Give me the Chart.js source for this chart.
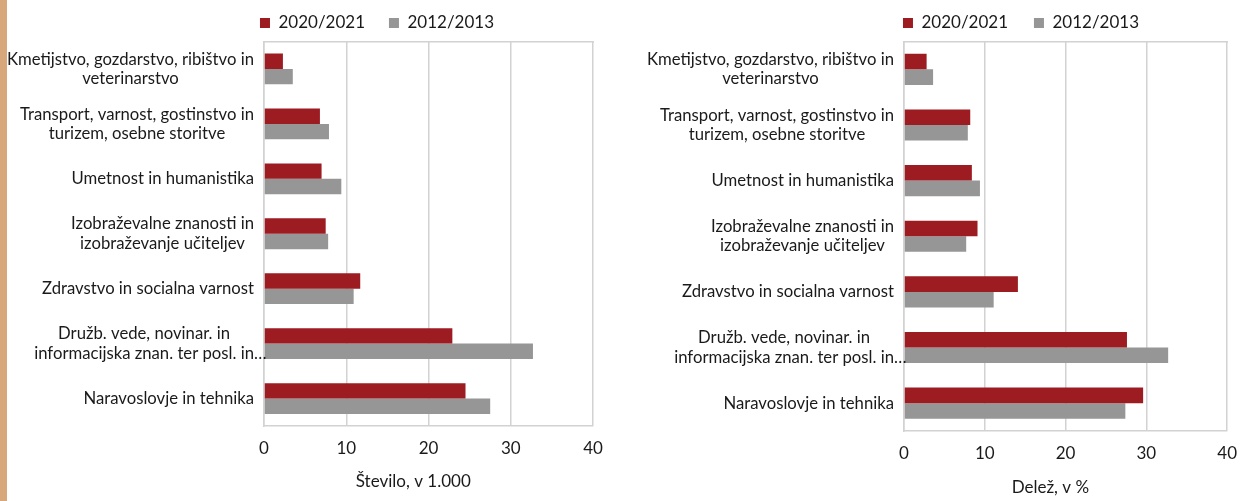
<!DOCTYPE html>
<html>
<head>
<meta charset="utf-8">
<script src="https://cdn.jsdelivr.net/npm/chart.js@4"></script>
<style>
  html, body { margin: 0; padding: 0; background: #fff; }
  #page { position: relative; width: 1249px; height: 501px; overflow: hidden; }
  #strip { position: absolute; left: 0; top: 0; width: 7px; height: 501px; background: #d6a87c; }
  #count-chart { position: absolute; left: 0; top: 0; }
  #share-chart { position: absolute; left: 620px; top: 0; }
</style>
</head>
<body>
<div id="page">
  <div id="strip"></div>
  <canvas id="count-chart" width="620" height="501"></canvas>
  <canvas id="share-chart" width="629" height="501"></canvas>
</div>
<script>
const categories = [
  ['Kmetijstvo, gozdarstvo, ribištvo in', 'veterinarstvo'],
  ['Transport, varnost, gostinstvo in', 'turizem, osebne storitve'],
  'Umetnost in humanistika',
  ['Izobraževalne znanosti in', 'izobraževanje učiteljev'],
  'Zdravstvo in socialna varnost',
  ['Družb. vede, novinar. in', 'informacijska znan. ter posl. in…'],
  'Naravoslovje in tehnika',
];
const seriesNames = ['2020/2021', '2012/2013'];

// students, in thousands
const count2021 = [2.3, 6.8, 7.0, 7.5, 11.7, 22.9, 24.5];
const count2013 = [3.5, 7.9, 9.4, 7.8, 10.9, 32.7, 27.5];
// share of all students, %
const share2021 = [2.8, 8.2, 8.4, 9.1, 14.1, 27.6, 29.6];
const share2013 = [3.6, 7.9, 9.4, 7.7, 11.1, 32.7, 27.4];

const xTicks = [0, 10, 20, 30, 40];
const axisTitles = ['Število, v 1.000', 'Delež, v %'];

const FONT = 'Lato, "Open Sans", sans-serif';
const FONT_SIZE = 17;
const LABEL_SIZE = 16.7;
const TEXT = '#1a1a1a';
const RED = '#9c1c22';
const GREY = '#969696';
const GRID = '#d2d2d2';
const LINE_H = 19.5;
const NBSP = '\u00a0';

Chart.defaults.font.family = FONT;
Chart.defaults.font.size = FONT_SIZE;
Chart.defaults.color = TEXT;

// category labels: each block right-aligned to the axis, lines centred inside the block;
// a trailing ellipsis is not counted, so it hangs over the axis
const categoryLabels = {
  id: 'categoryLabels',
  afterDatasetsDraw(chart, args, opts) {
    const ctx = chart.ctx;
    const yScale = chart.scales.y;
    const right = chart.chartArea.left - opts.gap;
    ctx.save();
    ctx.font = LABEL_SIZE + 'px ' + FONT;
    ctx.fillStyle = TEXT;
    ctx.textBaseline = 'middle';
    ctx.textAlign = 'left';
    chart.data.labels.forEach((label, i) => {
      const lines = [].concat(label);
      const widths = lines.map(s => ctx.measureText(s.replace(/…$/, '')).width);
      const cx = right - Math.max(...widths) / 2;
      const cy = yScale.getPixelForTick(i);
      lines.forEach((s, k) => {
        ctx.fillText(s, cx - widths[k] / 2, cy + (k - (lines.length - 1) / 2) * LINE_H);
      });
    });
    ctx.restore();
  },
};

function makeChart(id, recent, older, title, lay) {
  return new Chart(document.getElementById(id), {
    type: 'bar',
    data: {
      labels: categories,
      datasets: [
        { label: seriesNames[0] + NBSP.repeat(lay.legendGap), data: recent, backgroundColor: RED },
        { label: seriesNames[1], data: older, backgroundColor: GREY },
      ],
    },
    plugins: [categoryLabels],
    options: {
      indexAxis: 'y',
      responsive: false,
      animation: false,
      devicePixelRatio: 1,
      layout: { padding: lay.padding },
      datasets: { bar: { categoryPercentage: 0.56, barPercentage: 1 } },
      plugins: {
        legend: {
          position: 'top',
          labels: { boxWidth: 10, boxHeight: 10, padding: lay.legendPad, color: TEXT },
        },
        tooltip: { enabled: false },
        categoryLabels: { gap: 10 },
      },
      scales: {
        x: {
          min: xTicks[0],
          max: xTicks[xTicks.length - 1],
          ticks: { stepSize: xTicks[1] - xTicks[0], padding: 12, color: TEXT },
          grid: { color: GRID, lineWidth: 1.5, drawTicks: false },
          border: { color: GRID, width: 1.5 },
          title: {
            display: true,
            text: title + NBSP.repeat(lay.titleShift),
            color: TEXT,
            padding: { top: 0, bottom: lay.titlePad },
          },
          afterFit: s => { s.height = lay.xAxisH; },
        },
        frameTop: {
          type: 'linear',
          axis: 'x',
          position: 'top',
          ticks: { display: false },
          grid: { display: false, drawTicks: false },
          border: { display: true, color: GRID, width: 1.5 },
          afterFit: s => { s.height = 0; },
        },
        y: {
          ticks: { display: false },
          grid: { display: false, drawTicks: false },
          border: { color: GRID, width: 1.5 },
          afterFit: s => { s.width = lay.yAxisW; },
        },
      },
    },
  });
}

makeChart('count-chart', count2021, count2013, axisTitles[0], {
  padding: { left: 161, right: 27, top: 8, bottom: 0 },
  legendPad: 6.5, legendGap: 4, yAxisW: 103, xAxisH: 75, titlePad: 9, titleShift: 7,
});
makeChart('share-chart', share2021, share2013, axisTitles[1], {
  padding: { left: 184, right: 11, top: 6, bottom: 0 },
  legendPad: 8.5, legendGap: 4, yAxisW: 100, xAxisH: 70, titlePad: 3, titleShift: 7,
});
</script>
</body>
</html>
